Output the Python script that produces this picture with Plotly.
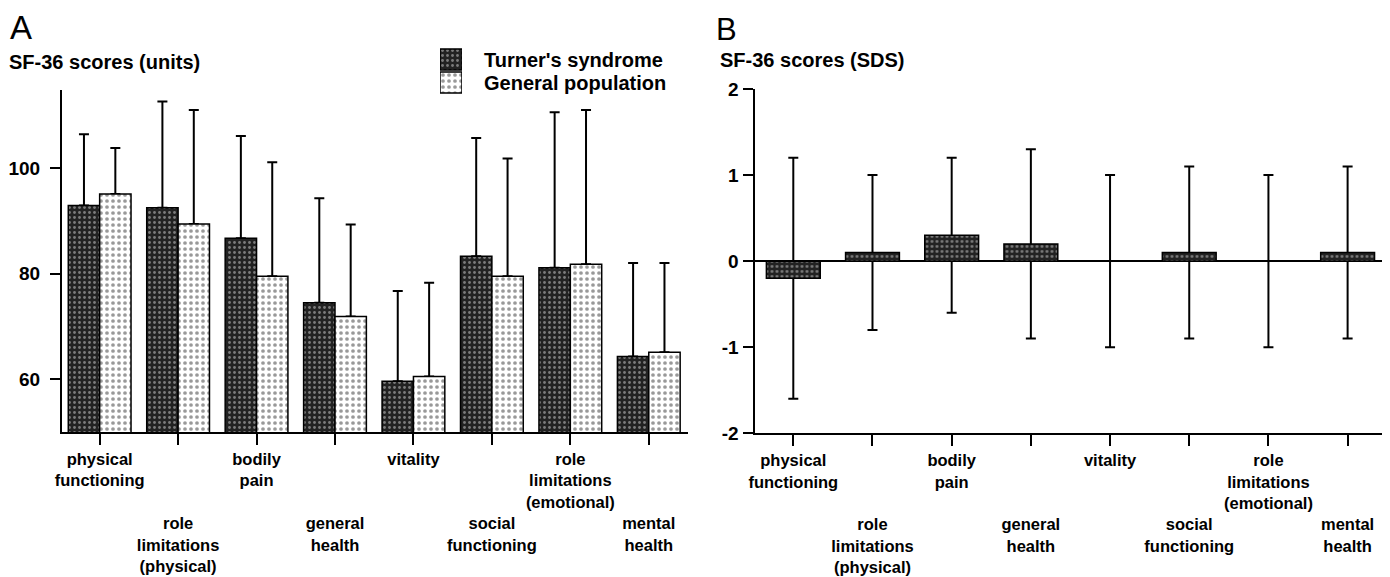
import plotly.graph_objects as go

# ---------------- data ----------------
categories = ["physical functioning", "role limitations (physical)", "bodily pain",
              "general health", "vitality", "social functioning",
              "role limitations (emotional)", "mental health"]
tick_labels = ["physical<br>functioning",
               "<br><br><br>role<br>limitations<br>(physical)",
               "bodily<br>pain",
               "<br><br><br>general<br>health",
               "vitality",
               "<br><br><br>social<br>functioning",
               "role<br>limitations<br>(emotional)",
               "<br><br><br>mental<br>health"]

turner_units = [92.9, 92.5, 86.7, 74.5, 59.6, 83.3, 81.1, 64.3]
turner_units_upper = [106.4, 112.6, 106.1, 94.3, 76.7, 105.7, 110.6, 82.0]
general_units = [95.1, 89.4, 79.5, 71.9, 60.5, 79.5, 81.8, 65.1]
general_units_upper = [103.8, 111.0, 101.1, 89.3, 78.3, 101.8, 111.0, 82.0]

turner_sds = [-0.2, 0.1, 0.3, 0.2, 0.0, 0.1, 0.0, 0.1]
turner_sds_upper = [1.2, 1.0, 1.2, 1.3, 1.0, 1.1, 1.0, 1.1]
turner_sds_lower = [-1.6, -0.8, -0.6, -0.9, -1.0, -0.9, -1.0, -0.9]

units_ticks = [60, 80, 100]
sds_ticks = [-2, -1, 0, 1, 2]
sds_tick_labels = ["-2", "-1", "0", "1", "2"]

legend_labels = ["Turner's syndrome", "General population"]

# ---------------- layout helpers ----------------
# the page body has an 8px default margin, so the figure is shrunk by that amount
OFF = 8
W, H = 1390 - OFF, 577 - OFF


def px(x):
    return (x - OFF) / W


def py(y):
    return 1 - (y - OFF) / H


FONT = "Liberation Sans, Arial, sans-serif"
turner_pattern = dict(shape=".", bgcolor="#222222", fgcolor="#7c7c7c", size=5, solidity=0.25)
general_pattern = dict(shape=".", bgcolor="#ffffff", fgcolor="#999999", size=6, solidity=0.3)
outline = dict(color="black", width=1.5)
clear = dict(color="rgba(0,0,0,0)", line=dict(width=0))


def err(plus, minus):
    return dict(type="data", symmetric=False, array=plus, arrayminus=minus,
                color="black", thickness=2, width=5)


fig = go.Figure()

# Panel A: error bars (drawn first, behind bars)
fig.add_trace(go.Bar(x=categories, y=turner_units, offset=-0.4, width=0.4, marker=clear,
                     error_y=err([u - v for u, v in zip(turner_units_upper, turner_units)],
                                 [0] * len(turner_units)),
                     showlegend=False, hoverinfo="skip", xaxis="x", yaxis="y"))
fig.add_trace(go.Bar(x=categories, y=general_units, offset=0.0, width=0.4, marker=clear,
                     error_y=err([u - v for u, v in zip(general_units_upper, general_units)],
                                 [0] * len(general_units)),
                     showlegend=False, hoverinfo="skip", xaxis="x", yaxis="y"))
fig.add_trace(go.Bar(x=categories, y=turner_units, offset=-0.4, width=0.4, name=legend_labels[0],
                     marker=dict(color="#222222", pattern=turner_pattern, line=outline),
                     showlegend=False, xaxis="x", yaxis="y"))
fig.add_trace(go.Bar(x=categories, y=general_units, offset=0.0, width=0.4, name=legend_labels[1],
                     marker=dict(color="#ffffff", pattern=general_pattern, line=outline),
                     showlegend=False, xaxis="x", yaxis="y"))

# Panel B
fig.add_trace(go.Bar(x=categories, y=turner_sds, width=0.68, marker=clear,
                     error_y=err([u - v for u, v in zip(turner_sds_upper, turner_sds)],
                                 [v - l for v, l in zip(turner_sds, turner_sds_lower)]),
                     showlegend=False, hoverinfo="skip", xaxis="x2", yaxis="y2"))
fig.add_trace(go.Bar(x=categories, y=turner_sds, width=0.68, name=legend_labels[0],
                     marker=dict(color="#222222", pattern=turner_pattern, line=outline),
                     showlegend=False, xaxis="x2", yaxis="y2"))

# Legend swatches (small helper axes)
fig.add_trace(go.Bar(y=[legend_labels[0]], x=[1], base=0, orientation="h", width=0.92,
                     marker=dict(color="#222222", pattern=turner_pattern, line=outline),
                     showlegend=False, hoverinfo="skip", xaxis="x3", yaxis="y3"))
fig.add_trace(go.Bar(y=[legend_labels[1]], x=[1], base=0, orientation="h", width=0.92,
                     marker=dict(color="#ffffff", pattern=general_pattern, line=outline),
                     showlegend=False, hoverinfo="skip", xaxis="x3", yaxis="y3"))

axis_common = dict(showline=True, linecolor="black", linewidth=2, ticks="outside",
                   tickcolor="black", tickwidth=2, showgrid=False, automargin=False)
xtickfont = dict(family=FONT, size=16.5, color="black", weight="bold")
ytickfont = dict(family=FONT, size=19, color="black", weight="bold")

fig.update_layout(
    width=W, height=H, template="none", barmode="overlay",
    margin=dict(l=0, r=0, t=0, b=0), paper_bgcolor="white", plot_bgcolor="white",
    font=dict(family=FONT, color="black"),
    xaxis=dict(domain=[px(62), px(688)], anchor="y", type="category", range=[-0.48, 7.5],
               tickmode="array", tickvals=categories, ticktext=tick_labels, tickangle=0,
               ticklen=11, tickfont=xtickfont, zeroline=False, **axis_common),
    yaxis=dict(domain=[py(432), py(90)], anchor="x", range=[50, 114.8],
               tickmode="array", tickvals=units_ticks, ticklen=10, tickfont=ytickfont,
               zeroline=False, ticklabelstandoff=6, **axis_common),
    xaxis2=dict(domain=[px(754.5), px(1388)], anchor="y2", type="category", range=[-0.49, 7.51],
                tickmode="array", tickvals=categories, ticktext=tick_labels, tickangle=0,
                ticklen=11, tickfont=xtickfont, zeroline=False, **axis_common),
    yaxis2=dict(domain=[py(433.3), py(89)], anchor="x2", range=[-2, 2],
                tickmode="array", tickvals=sds_ticks, ticktext=sds_tick_labels, ticklen=10,
                tickfont=ytickfont, zeroline=True, zerolinecolor="black", zerolinewidth=2,
                **axis_common),
    xaxis3=dict(domain=[px(440), px(462)], anchor="y3", range=[0, 1], visible=False),
    yaxis3=dict(domain=[py(94), py(48)], anchor="x3", type="category",
                categoryorder="array", categoryarray=[legend_labels[1], legend_labels[0]],
                tickmode="array", tickvals=legend_labels,
                range=[-0.5, 1.5], side="right", showline=False, ticks="", showgrid=False,
                zeroline=False, ticklabelstandoff=21, automargin=False,
                tickfont=dict(family=FONT, size=20, color="black", weight="bold")),
    annotations=[
        dict(text="A", x=px(8), y=py(28), xref="paper", yref="paper", xanchor="left",
             yanchor="middle", showarrow=False, font=dict(family=FONT, size=33, color="black")),
        dict(text="SF-36 scores (units)", x=px(7), y=py(62), xref="paper", yref="paper",
             xanchor="left", yanchor="middle", showarrow=False,
             font=dict(family=FONT, size=20, color="black", weight="bold")),
        dict(text="B", x=px(714), y=py(30), xref="paper", yref="paper", xanchor="left",
             yanchor="middle", showarrow=False, font=dict(family=FONT, size=31, color="black")),
        dict(text="SF-36 scores (SDS)", x=px(718), y=py(60), xref="paper", yref="paper",
             xanchor="left", yanchor="middle", showarrow=False,
             font=dict(family=FONT, size=20, color="black", weight="bold")),
    ],
)

fig.write_html("out.html")
